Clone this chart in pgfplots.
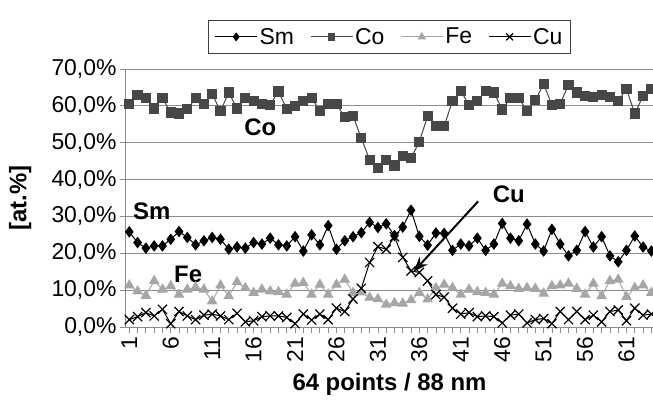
\documentclass[border=0pt]{standalone}
\usepackage{fontspec}
\setmainfont{Liberation Sans}
\usepackage{pgfplots}
\usepackage{pgfplotstable}
\pgfplotsset{compat=1.18}
\usetikzlibrary{arrows.meta}

\definecolor{cogray}{HTML}{474747}
\definecolor{fegray}{HTML}{A6A6A6}
\definecolor{gridgray}{HTML}{8C8C8C}
\newcommand\chartfont{\fontsize{23}{27}\selectfont}
\newcommand\labfont{\fontsize{24}{28}\selectfont\bfseries}

% line scan, 64 points, at.%
\pgfplotstableread{
i  Sm   Co   Fe   Cu
1  25.8 60.6 11.3 2.0
2  22.9 63.0 9.7  2.8
3  21.4 62.1 8.5  3.9
4  22.0 59.3 12.5 3.0
5  22.0 62.1 10.2 4.8
6  23.8 58.2 11.1 0.9
7  25.9 57.9 8.8  4.2
8  24.3 59.1 10.2 3.0
9  22.3 62.1 10.8 2.0
10 23.4 60.6 10.2 3.2
11 24.3 63.2 7.0  3.5
12 23.8 58.6 11.3 3.0
13 21.1 63.6 8.4  2.0
14 21.7 59.3 12.2 3.7
15 21.4 62.1 10.6 1.4
16 22.9 61.4 9.3  1.7
17 22.5 60.6 10.2 2.8
18 24.1 60.3 9.7  3.0
19 22.3 63.9 9.5  3.0
20 22.0 59.1 8.8  2.6
21 24.5 60.0 11.8 0.9
22 20.6 61.4 12.0 3.5
23 25.0 62.1 8.8  1.9
24 22.3 58.6 11.5 3.5
25 27.5 60.6 8.8  2.0
26 21.1 60.5 11.5 5.1
27 23.4 57.0 12.9 4.2
28 24.5 57.3 9.3  7.6
29 25.6 51.2 9.4  10.5
30 28.4 45.4 8.0  17.5
31 27.0 43.2 7.6  21.8
32 28.0 45.4 6.1  21.1
33 24.8 43.8 6.5  24.5
34 27.1 46.3 6.4  18.9
35 31.7 45.8 7.3  15.2
36 24.6 50.3 9.3  14.8
37 22.2 57.2 7.5  12.5
38 25.5 54.5 10.6 8.8
39 25.4 54.5 11.5 8.1
40 20.8 61.4 10.6 5.1
41 22.5 64.1 8.8  3.5
42 22.0 60.2 10.2 3.9
43 24.1 61.4 9.5  2.8
44 20.8 64.1 9.3  3.0
45 22.5 63.6 8.8  2.8
46 28.1 59.0 11.8 1.1
47 24.1 62.1 11.1 3.2
48 23.4 62.1 10.4 3.5
49 27.9 58.6 10.6 1.1
50 22.5 61.5 10.4 2.0
51 20.6 65.9 9.1  2.3
52 26.5 60.3 11.1 0.9
53 22.5 60.6 11.3 4.2
54 19.3 65.7 11.8 2.0
55 20.8 63.6 10.4 4.2
56 25.9 62.7 8.8  2.0
57 21.7 62.3 11.8 3.2
58 24.5 63.0 8.4  1.4
59 19.3 62.5 12.5 4.2
60 17.7 61.4 12.9 4.6
61 20.8 64.5 8.2  1.7
62 24.7 57.9 10.6 5.1
63 21.7 62.7 11.3 3.2
64 20.6 64.5 9.3  3.5
}\scan

\begin{document}
\begin{tikzpicture}
\begin{axis}[
    scale only axis,
    width=527bp, height=258bp,
    xmin=0.6, xmax=64.2,
    ymin=0, ymax=70,
    axis x line*=bottom,
    axis y line*=left,
    axis line style={gridgray, line width=1bp},
    tick align=outside,
    major tick length=6bp,
    minor tick length=6bp,
    tick style={gridgray, line width=0.8bp},
    xtick={1,6,...,61},
    xticklabels={1,6,11,16,21,26,31,36,41,46,51,56,61},
    minor xtick={1,...,64},
    ytick={0,10,...,70},
    yticklabels={{0,0\%},{10,0\%},{20,0\%},{30,0\%},{40,0\%},{50,0\%},{60,0\%},{70,0\%}},
    tick label style={font=\chartfont},
    x tick label style={rotate=90, anchor=east},
    ymajorgrids,
    grid style={gridgray, line width=0.8bp},
    xlabel={64 points / 88 nm},
    xlabel style={at={(axis description cs:0.5,-0.221)}, anchor=center, font=\labfont},
    ylabel={[at.\%]},
    ylabel style={at={(axis description cs:-0.201,0.5)}, anchor=center, font=\labfont},
    legend columns=4,
    legend style={at={(0.5,1)}, anchor=south, yshift=15bp,
        draw=black!75, line width=0.8bp, font=\chartfont,
        inner xsep=6bp, inner ysep=6bp,
        /tikz/every even column/.append style={column sep=14bp}},
    legend image code/.code={\draw[mark repeat=2, mark phase=2, #1, every mark/.append style={scale=0.75}]
        plot coordinates {(0bp,0bp) (21bp,0bp) (42bp,0bp)};},
]
\addplot[black, line width=1bp, mark=diamond*, mark size=5bp, mark options={fill=black}]
    table[x=i, y=Sm] {\scan};
\addplot[cogray, line width=1bp, mark=square*, mark size=4.6bp, mark options={fill=cogray}]
    table[x=i, y=Co] {\scan};
\addplot[fegray, line width=1bp, mark=triangle*, mark size=5.2bp, mark options={fill=fegray}]
    table[x=i, y=Fe] {\scan};
\addplot[black, line width=1bp, mark=x, mark size=6.5bp, mark options={line width=1.2bp}]
    table[x=i, y=Cu] {\scan};
\legend{Sm, Co, Fe, Cu}

\node[font=\labfont] at (axis cs:16.8,54.3) {Co};
\node[font=\labfont] at (axis cs:3.7,31.3) {Sm};
\node[font=\labfont] at (axis cs:8.1,14.4) {Fe};
\node[font=\labfont] at (axis cs:46.8,36.1) {Cu};
\draw[-{Stealth[length=15bp,width=11bp]}, line width=2bp] (axis cs:43.1,34.1) -- (axis cs:35.3,15.0);
\end{axis}
\pgfresetboundingbox
\path[use as bounding box] ([xshift=-126bp,yshift=-74bp]current axis.south west) rectangle ([yshift=69bp]current axis.north east);
\end{tikzpicture}
\end{document}
